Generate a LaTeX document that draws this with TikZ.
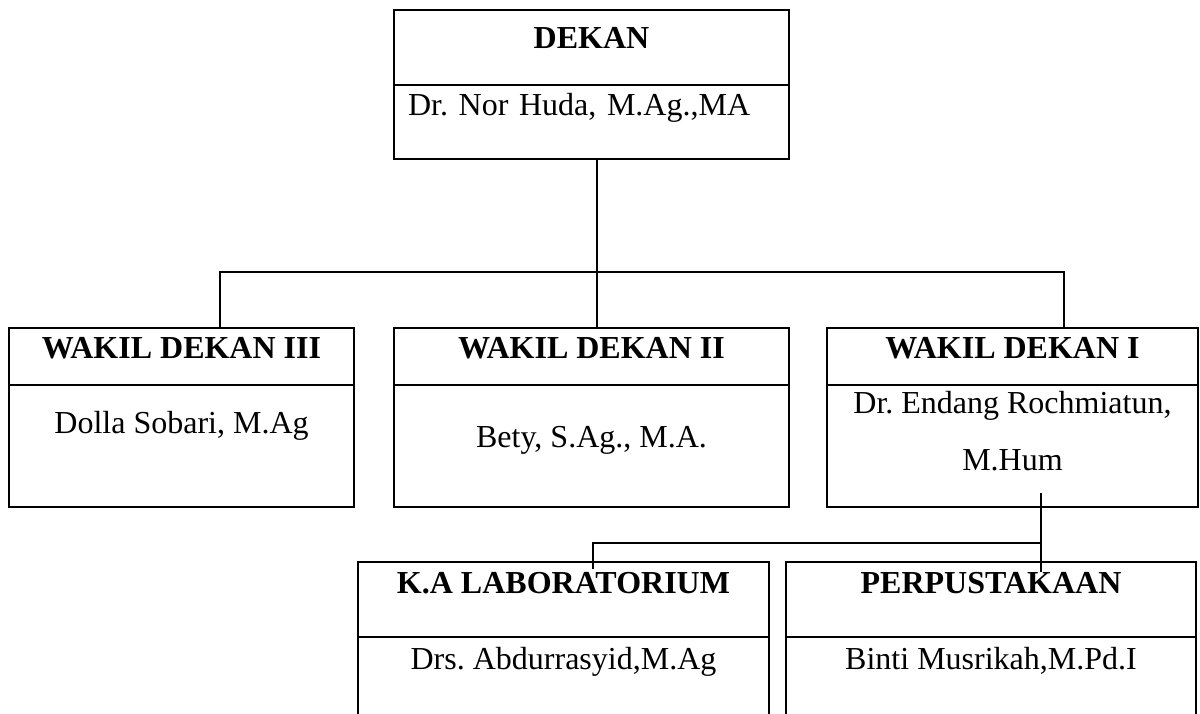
\documentclass[tikz,border=0pt]{standalone}
\usepackage{fontspec}
\setmainfont{Liberation Serif}
\usetikzlibrary{positioning, calc}
\frenchspacing

\begin{document}
\begin{tikzpicture}[
  x=0.5pt, y=-0.5pt,
  box/.style={draw, line width=1pt, inner sep=0pt, outer sep=0pt,
              font=\fontsize{16}{19}\selectfont},
  headbox/.style={box, font=\fontsize{16}{19}\selectfont\bfseries},
  link/.style={line width=1pt},
  sublink/.style={line width=0.7pt},
]

\path[use as bounding box] (0,0) rectangle (1200,713);
\clip (0,0) rectangle (1200,713);

% Dekan
\node[headbox, anchor=north, minimum width=197.5pt, text height=19pt, text depth=18.5pt]
  (dekanh) at (591.5,10) {DEKAN};
\node[box, below=0pt of dekanh, text width=183.5pt, inner xsep=7pt, align=left,
      text height=15pt, text depth=22pt]
  (dekanb) {Dr. Nor Huda, M.Ag.,MA};

% Wakil dekan
\node[headbox, anchor=north, minimum width=172.5pt, text height=15pt, text depth=13.5pt]
  (wd3h) at (181.5,328) {WAKIL DEKAN III};
\node[box, below=0pt of wd3h, minimum width=172.5pt, text height=24pt, text depth=37pt]
  (wd3b) {Dolla Sobari, M.Ag};

\node[headbox, anchor=north, minimum width=197.5pt, text height=15pt, text depth=13.5pt]
  (wd2h) at (591.5,328) {WAKIL DEKAN II};
\node[box, below=0pt of wd2h, minimum width=197.5pt, text height=31pt, text depth=30pt]
  (wd2b) {Bety, S.Ag., M.A.};

\node[headbox, anchor=north, minimum width=185.5pt, text height=15pt, text depth=13.5pt]
  (wd1h) at (1012.5,328) {WAKIL DEKAN I};
\node[box, below=0pt of wd1h, minimum width=185.5pt, align=center,
      font=\fontsize{16}{28.5}\selectfont, text height=42.5pt, text depth=18.5pt]
  (wd1b) {Dr. Endang Rochmiatun,\\M.Hum};

% Laboratorium, perpustakaan
\node[headbox, anchor=north, minimum width=205.5pt, text height=15.5pt, text depth=22pt]
  (labh) at (563.5,562) {K.A LABORATORIUM};
\node[box, below=0pt of labh, minimum width=205.5pt, text height=16pt, text depth=40pt]
  (labb) {Drs. Abdurrasyid,M.Ag};

\node[headbox, anchor=north, minimum width=205pt, text height=15.5pt, text depth=22pt]
  (perh) at (991,562) {PERPUSTAKAAN};
\node[box, below=0pt of perh, minimum width=205pt, text height=16pt, text depth=40pt]
  (perb) {Binti Musrikah,M.Pd.I};

% Lines
\coordinate (bus) at (597,272);
\draw[link] (dekanb.south -| bus) -- (bus);
\draw[link] ($(wd3h.north)+(38.5,0)$) |- (bus) -| ($(wd1h.north)+(51.5,0)$);
\draw[link] (bus) -- (wd2h.north -| bus);

\coordinate (sub) at (1041,543);
\draw[sublink] ($(wd1b.south)+(28.5,-14)$) -- ($(perh.north -| sub)+(0,10)$);
\draw[sublink] ($(labh.north)+(29.5,7)$) |- (sub);

\end{tikzpicture}
\end{document}
